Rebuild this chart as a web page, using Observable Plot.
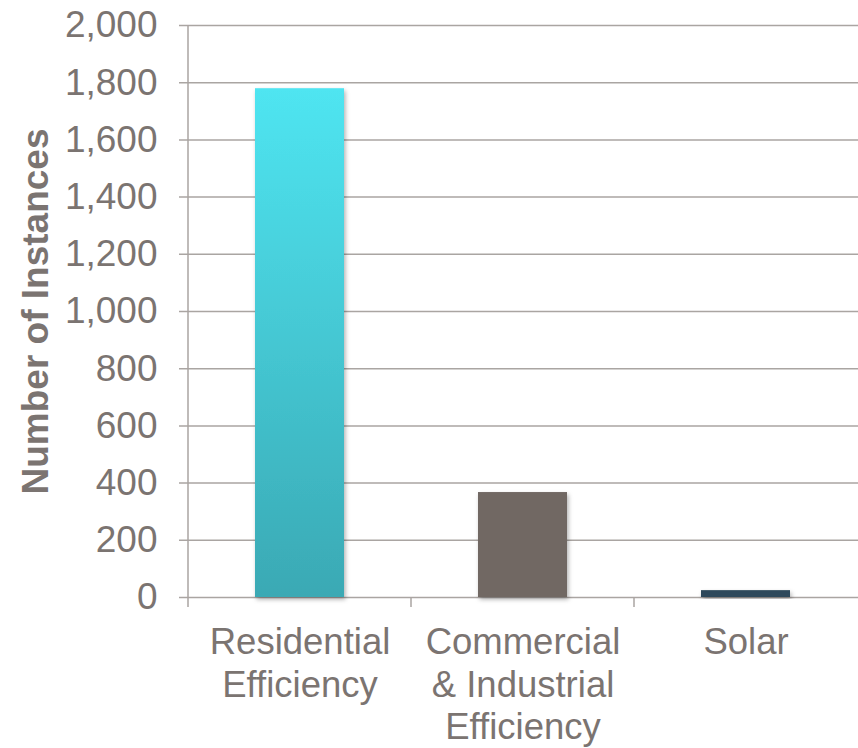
<!DOCTYPE html>
<html>
<head>
<meta charset="utf-8">
<script src="https://cdn.jsdelivr.net/npm/d3@7"></script>
<script src="https://cdn.jsdelivr.net/npm/@observablehq/plot@0.6"></script>
<style>
  html, body { margin: 0; padding: 0; background: #ffffff; }
  #chart svg { display: block; }
</style>
</head>
<body>
<div id="chart"></div>
<script>
const categories = ["Residential Efficiency", "Commercial & Industrial Efficiency", "Solar"];
const categoryLabels = ["Residential\nEfficiency", "Commercial\n& Industrial\nEfficiency", "Solar"];
const instances = [1779, 367, 24];
const yTicks = [0, 200, 400, 600, 800, 1000, 1200, 1400, 1600, 1800, 2000];
const yTitle = "Number of Instances";

const barColors = ["url(#resGrad)", "#716864", "#2e4a5c"];
const textColor = "#7b7471";
const lineColor = "#aaa5a2";
const font = "'Liberation Sans', Arial, Helvetica, sans-serif";

const data = categories.map((c, i) => ({category: c, value: instances[i], fill: barColors[i]}));
const labelOf = new Map(categories.map((c, i) => [c, categoryLabels[i]]));

// defs: gradient + shadow
function defs() {
  const svg = d3.create("svg:g");
  const d = svg.append("defs");
  const g = d.append("linearGradient").attr("id", "resGrad")
    .attr("x1", 0).attr("y1", 0).attr("x2", 0).attr("y2", 1);
  g.append("stop").attr("offset", "0%").attr("stop-color", "#4fe5f1");
  g.append("stop").attr("offset", "100%").attr("stop-color", "#3aa9b4");
  const f = d.append("filter").attr("id", "barShadow")
    .attr("x", "-20%").attr("y", "-20%").attr("width", "140%").attr("height", "140%");
  f.append("feDropShadow").attr("dx", 1.5).attr("dy", 2.5).attr("stdDeviation", 2)
    .attr("flood-color", "#000").attr("flood-opacity", 0.3);
  return svg.node();
}

// Vertical axis line and category boundary ticks
function axisFrame(index, scales, values, dimensions) {
  const x = scales.x, y = scales.y;
  const bw = x.bandwidth();
  const step = x.step ? x.step() : bw / 0.4;
  const y0 = y(0), yTop = y(yTicks[yTicks.length - 1]);
  const g = d3.create("svg:g").attr("stroke", lineColor).attr("stroke-width", 1.5);
  const left = dimensions.marginLeft;
  g.append("line").attr("x1", left).attr("x2", left).attr("y1", yTop).attr("y2", y0 + 10);
  categories.forEach((c, i) => {
    if (i === 0) return;
    const bx = x(c) + bw / 2 - step / 2;
    g.append("line").attr("x1", bx).attr("x2", bx).attr("y1", y0).attr("y2", y0 + 10);
  });
  return g.node();
}

const plot = Plot.plot({
  width: 858,
  height: 748,
  marginLeft: 188,
  marginRight: 0,
  marginTop: 25,
  marginBottom: 151,
  style: {fontFamily: font, background: "#ffffff", color: textColor},
  x: {domain: categories, paddingInner: 0.6, paddingOuter: 0.3, label: null},
  y: {domain: [0, 2000], label: null},
  marks: [
    defs,
    Plot.ruleY(yTicks, {stroke: lineColor, strokeWidth: 1.5, insetLeft: -9}),
    axisFrame,
    Plot.axisY({ticks: yTicks, tickFormat: d3.format(","), tickSize: 0, tickPadding: 31,
      fontSize: 37, fill: textColor, label: null}),
    Plot.axisX({tickSize: 0, tickPadding: 26, fontSize: 36.5, lineHeight: 1.17,
      fill: textColor, tickFormat: d => labelOf.get(d), label: null}),
    Plot.barY(data, {x: "category", y: "value", fill: d => d.fill}),
    Plot.text([yTitle], {frameAnchor: "left", textAnchor: "middle", text: d => d, rotate: -90, dx: -152,
      fontSize: 37, fontWeight: "bold", fill: textColor})
  ]
});
plot.querySelectorAll("g[aria-label='bar'] rect").forEach(r => r.setAttribute("filter", "url(#barShadow)"));
document.getElementById("chart").appendChild(plot);
</script>
</body>
</html>
